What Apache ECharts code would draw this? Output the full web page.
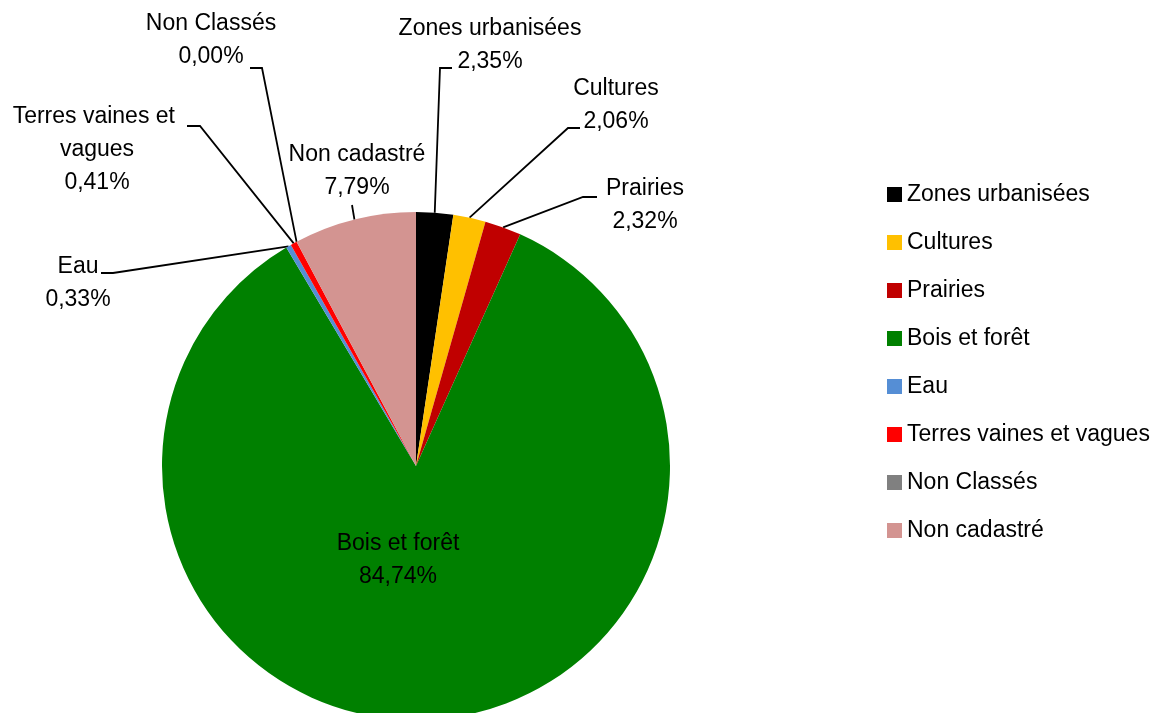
<!DOCTYPE html>
<html>
<head>
<meta charset="utf-8">
<script src="https://cdn.jsdelivr.net/npm/echarts@6/dist/echarts.min.js"></script>
<style>
html, body { margin: 0; padding: 0; background: #fff; }
#chart { width: 1161px; height: 713px; }
</style>
</head>
<body>
<div id="chart"></div>
<script>
var categories = ['Zones urbanisées', 'Cultures', 'Prairies', 'Bois et forêt', 'Eau', 'Terres vaines et vagues', 'Non Classés', 'Non cadastré'];
var shares = [2.35, 2.06, 2.32, 84.74, 0.33, 0.41, 0.00, 7.79];
var colors = ['#000000', '#FFC000', '#C00000', '#008000', '#558ED5', '#FF0000', '#808080', '#D39491'];
// where Excel put each data label (centre of the text block)
var labelPos = [[490, 45], [616, 105], [645, 205], [398, 560], [78, 283], [97, 150], [211, 40], [357, 171]];
// where the leader line meets the label, and which side the short tick is on
var lineEnd = [[452, 68], [580, 128], [597, 197], null, [101, 273], [187, 126], [250, 68], [352, 205]];
var tickDir = [-12, -12, -14, 0, 12, 13, 12, 0];

var cx = 416, cy = 466, R = 254;

var myChart = echarts.init(document.getElementById('chart'));

var total = shares.reduce(function (a, b) { return a + b; }, 0);
var midAngle = [];
var acc = 0;
shares.forEach(function (v) {
    midAngle.push((acc + v / 2) / total * Math.PI * 2);
    acc += v;
});

var data = categories.map(function (c, i) {
    var item = { name: c, value: shares[i], itemStyle: { color: colors[i] } };
    if (i === 3) {
        item.label = { position: 'inside' };
        item.labelLine = { show: false };
    }
    if (i === 5) {
        item.label = { width: 180, overflow: 'break' };
    }
    return item;
});

myChart.setOption({
    animation: false,
    legend: {
        orient: 'vertical',
        left: 882,
        top: 178,
        itemWidth: 15,
        itemHeight: 15,
        itemGap: 25,
        icon: 'rect',
        textStyle: { fontFamily: 'Liberation Sans', fontSize: 23, color: '#000' },
        data: categories
    },
    series: [{
        type: 'pie',
        center: [cx, cy],
        radius: R,
        startAngle: 90,
        clockwise: true,
        avoidLabelOverlap: false,
        itemStyle: { borderWidth: 0 },
        label: {
            show: true,
            fontFamily: 'Liberation Sans',
            fontSize: 23,
            lineHeight: 33,
            color: '#000',
            align: 'center',
            formatter: function (p) {
                return p.name + '\n' + p.value.toFixed(2).replace('.', ',') + '%';
            }
        },
        labelLine: {
            show: true,
            lineStyle: { color: '#000', width: 1.8 }
        },
        labelLayout: function (params) {
            var i = params.dataIndex;
            var pos = labelPos[i];
            var out = { x: pos[0], y: pos[1], align: 'center', verticalAlign: 'middle' };
            if (lineEnd[i]) {
                var a = midAngle[i];
                var edge = [cx + R * Math.sin(a), cy - R * Math.cos(a)];
                var end = lineEnd[i];
                out.labelLinePoints = [edge, [end[0] + tickDir[i], end[1]], end];
            }
            return out;
        },
        data: data
    }]
});
</script>
</body>
</html>
